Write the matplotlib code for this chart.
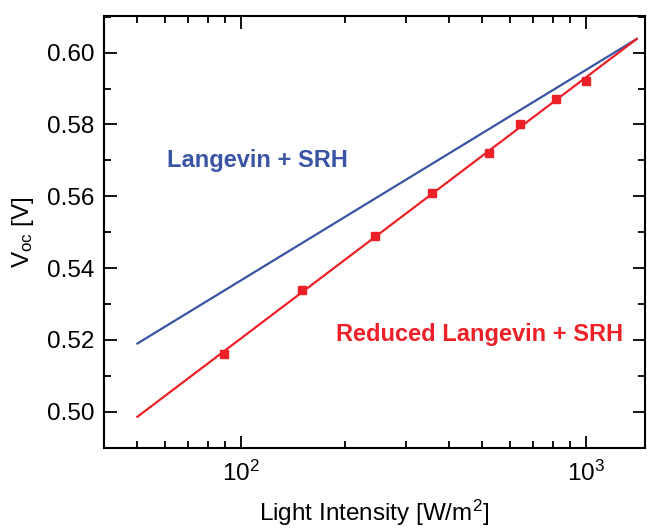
import matplotlib.pyplot as plt
from matplotlib.ticker import LogLocator, MultipleLocator, FixedLocator, NullFormatter

plt.rcParams['font.family'] = ['Liberation Sans', 'DejaVu Sans']
plt.rcParams['mathtext.fontset'] = 'custom'
plt.rcParams['mathtext.rm'] = 'Liberation Sans'
plt.rcParams['mathtext.it'] = 'Liberation Sans'

# simulated curves (straight in log-x)
int_sim = [50, 1400]
voc_langevin = [0.519, 0.6038]
voc_reduced = [0.4986, 0.6038]

# measured points
int_meas = [89, 150, 244, 356, 522, 644, 817, 1000]
voc_meas = [0.516, 0.534, 0.549, 0.561, 0.572, 0.580, 0.587, 0.592]

blue = '#3a54a4'
red = '#ee2027'

W, H = 647, 529
fig = plt.figure(figsize=(W / 100, H / 100), dpi=100)
ax = fig.add_axes([104 / W, 1 - 448 / H, (645 - 104) / W, (448 - 16) / H])

ax.plot(int_sim, voc_langevin, color=blue, lw=1.6)
ax.plot(int_sim, voc_reduced, color=red, lw=1.6)
ax.plot(int_meas, voc_meas, 's', color=red, ms=6, mec=red)

ax.set_xscale('log')
ax.set_xlim(40, 1480)
ax.set_ylim(0.4899, 0.6102)

ax.yaxis.set_major_locator(FixedLocator([0.50, 0.52, 0.54, 0.56, 0.58, 0.60]))
ax.yaxis.set_minor_locator(MultipleLocator(0.01))
ax.yaxis.set_major_formatter(plt.FuncFormatter(lambda v, p: f'{v:.2f}'))
ax.xaxis.set_major_locator(LogLocator(base=10, numticks=10))
ax.xaxis.set_minor_locator(LogLocator(base=10, subs=range(2, 10), numticks=10))
ax.xaxis.set_minor_formatter(NullFormatter())

ax.tick_params(which='both', direction='in', top=True, right=True, width=1.3, labelsize=17.5)
ax.tick_params(axis='x', pad=9)
ax.tick_params(axis='y', pad=7)
ax.tick_params(which='major', length=9)
ax.tick_params(which='minor', length=5)
for s in ax.spines.values():
    s.set_linewidth(1.5)

ax.set_xlabel('Light Intensity [W/m$^2$]', fontsize=17.5, labelpad=9)
ax.set_ylabel('V$_{oc}$ [V]', fontsize=17.5, labelpad=8)

ax.text(167, H - 160, 'Langevin + SRH', transform=None, color=blue, fontsize=17,
        fontweight='bold', va='center', ha='left')
ax.text(336, H - 335, 'Reduced Langevin + SRH', transform=None, color=red, fontsize=17,
        fontweight='bold', va='center', ha='left')

fig.savefig('out.png', dpi=100)
